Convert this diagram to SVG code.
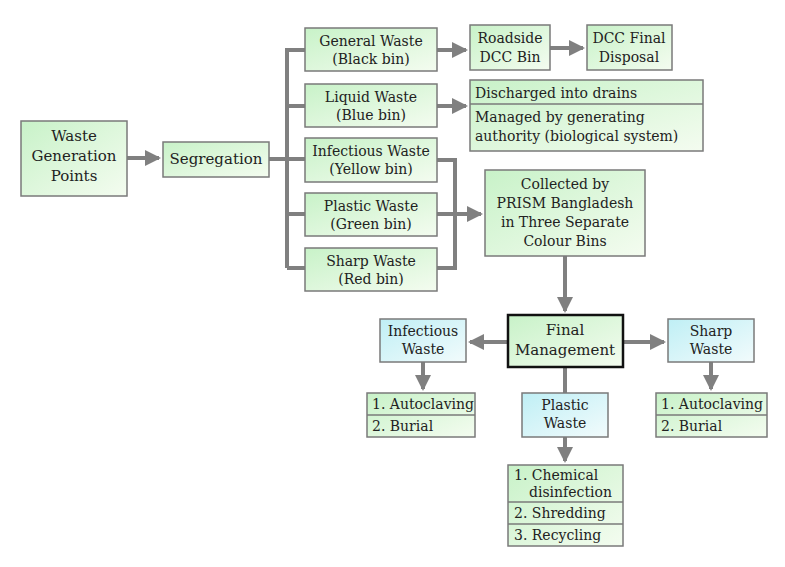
<svg xmlns="http://www.w3.org/2000/svg" width="785" height="567" viewBox="0 0 785 567">
<defs>
<linearGradient id="g" x1="0" y1="0" x2="1" y2="1"><stop offset="0" stop-color="#c8f2c8"/><stop offset="1" stop-color="#f4fcf0"/></linearGradient>
<linearGradient id="b" x1="0" y1="0" x2="1" y2="1"><stop offset="0" stop-color="#bfeff5"/><stop offset="1" stop-color="#f2fbfc"/></linearGradient>
<marker id="a" markerWidth="4" markerHeight="4" refX="3.5" refY="2" orient="auto" markerUnits="strokeWidth"><path d="M0,0 L4,2 L0,4 z" fill="#808080"/></marker>
</defs>
<style>
rect{fill:url(#g);stroke:#7a7a7a;stroke-width:1.5}
rect.bl{fill:url(#b)}
text{font-family:"DejaVu Serif","Liberation Serif",serif;font-size:14px;fill:#222;text-anchor:middle}
text.l{text-anchor:start}
.c path{fill:none;stroke:#808080;stroke-width:4}
.c path.m{marker-end:url(#a)}
line{stroke:#7a7a7a;stroke-width:1.5}
</style>
<rect width="785" height="567" style="fill:#fff;stroke:none"/>
<g class="c">
<path class="m" d="M127,158 H159"/>
<path d="M269,159 H287 M287,48 V268 M287,50 H305 M287,106 H305 M287,159 H305 M287,214 H305 M287,268 H305"/>
<path class="m" d="M437,50 H466"/>
<path class="m" d="M550,48 H583"/>
<path class="m" d="M437,106 H466"/>
<path d="M437,160 H455 V268 H437 M437,214 H455"/>
<path class="m" d="M455,214 H481"/>
<path class="m" d="M565,256 V311"/>
<path class="m" d="M508,342 H470"/>
<path class="m" d="M623,342 H664"/>
<path class="m" d="M423,362 V389"/>
<path class="m" d="M711,362 V389"/>
<path d="M565,367 V393"/>
<path class="m" d="M565,437 V461"/>
</g>
<g id="n1"><rect x="21" y="121" width="106" height="75"/><text x="74" y="141" style="font-size:15px">Waste</text><text x="74" y="161" style="font-size:15px">Generation</text><text x="74" y="181" style="font-size:15px">Points</text></g>
<g id="n2"><rect x="163" y="142" width="106" height="35"/><text x="216" y="164" style="font-size:15px">Segregation</text></g>
<g id="n3"><rect x="305" y="28" width="132" height="43"/><text x="371" y="46">General Waste</text><text x="371" y="64">(Black bin)</text></g>
<g id="n4"><rect x="305" y="84" width="132" height="43"/><text x="371" y="102">Liquid Waste</text><text x="371" y="120">(Blue bin)</text></g>
<g id="n5"><rect x="305" y="138" width="132" height="44"/><text x="371" y="156">Infectious Waste</text><text x="371" y="174">(Yellow bin)</text></g>
<g id="n6"><rect x="305" y="193" width="132" height="43"/><text x="371" y="211">Plastic Waste</text><text x="371" y="229">(Green bin)</text></g>
<g id="n7"><rect x="305" y="248" width="132" height="43"/><text x="371" y="266">Sharp Waste</text><text x="371" y="284">(Red bin)</text></g>
<g id="n8"><rect x="470" y="25" width="80" height="45"/><text x="510" y="43">Roadside</text><text x="510" y="62">DCC Bin</text></g>
<g id="n9"><rect x="587" y="25" width="85" height="45"/><text x="629" y="43">DCC Final</text><text x="629" y="62">Disposal</text></g>
<g id="n10"><rect x="470" y="80" width="233" height="71"/><line x1="470" y1="104" x2="703" y2="104"/><text class="l" x="475" y="98">Discharged into drains</text><text class="l" x="475" y="122">Managed by generating</text><text class="l" x="475" y="141">authority (biological system)</text></g>
<g id="n11"><rect x="485" y="170" width="160" height="86"/><text x="565" y="189">Collected by</text><text x="565" y="208">PRISM Bangladesh</text><text x="565" y="227">in Three Separate</text><text x="565" y="246">Colour Bins</text></g>
<g id="n12"><rect x="508" y="315" width="115" height="52" style="stroke:#111;stroke-width:2.5"/><text x="565" y="335" style="font-size:15px">Final</text><text x="565" y="355" style="font-size:15px">Management</text></g>
<g id="n13"><rect class="bl" x="380" y="319" width="86" height="43"/><text x="423" y="336">Infectious</text><text x="423" y="354">Waste</text></g>
<g id="n14"><rect class="bl" x="668" y="319" width="86" height="43"/><text x="711" y="336">Sharp</text><text x="711" y="354">Waste</text></g>
<g id="n15"><rect class="bl" x="522" y="393" width="86" height="44"/><text x="565" y="410">Plastic</text><text x="565" y="428">Waste</text></g>
<g id="n16"><rect x="367" y="393" width="108" height="44"/><line x1="367" y1="415" x2="475" y2="415"/><text class="l" x="372" y="409">1. Autoclaving</text><text class="l" x="372" y="431">2. Burial</text></g>
<g id="n17"><rect x="656" y="393" width="111" height="44"/><line x1="656" y1="415" x2="767" y2="415"/><text class="l" x="661" y="409">1. Autoclaving</text><text class="l" x="661" y="431">2. Burial</text></g>
<g id="n18"><rect x="508" y="465" width="115" height="81"/><line x1="508" y1="502" x2="623" y2="502"/><line x1="508" y1="524" x2="623" y2="524"/><text class="l" x="514" y="480">1. Chemical</text><text class="l" x="529" y="497">disinfection</text><text class="l" x="514" y="518">2. Shredding</text><text class="l" x="514" y="540">3. Recycling</text></g>
</svg>
